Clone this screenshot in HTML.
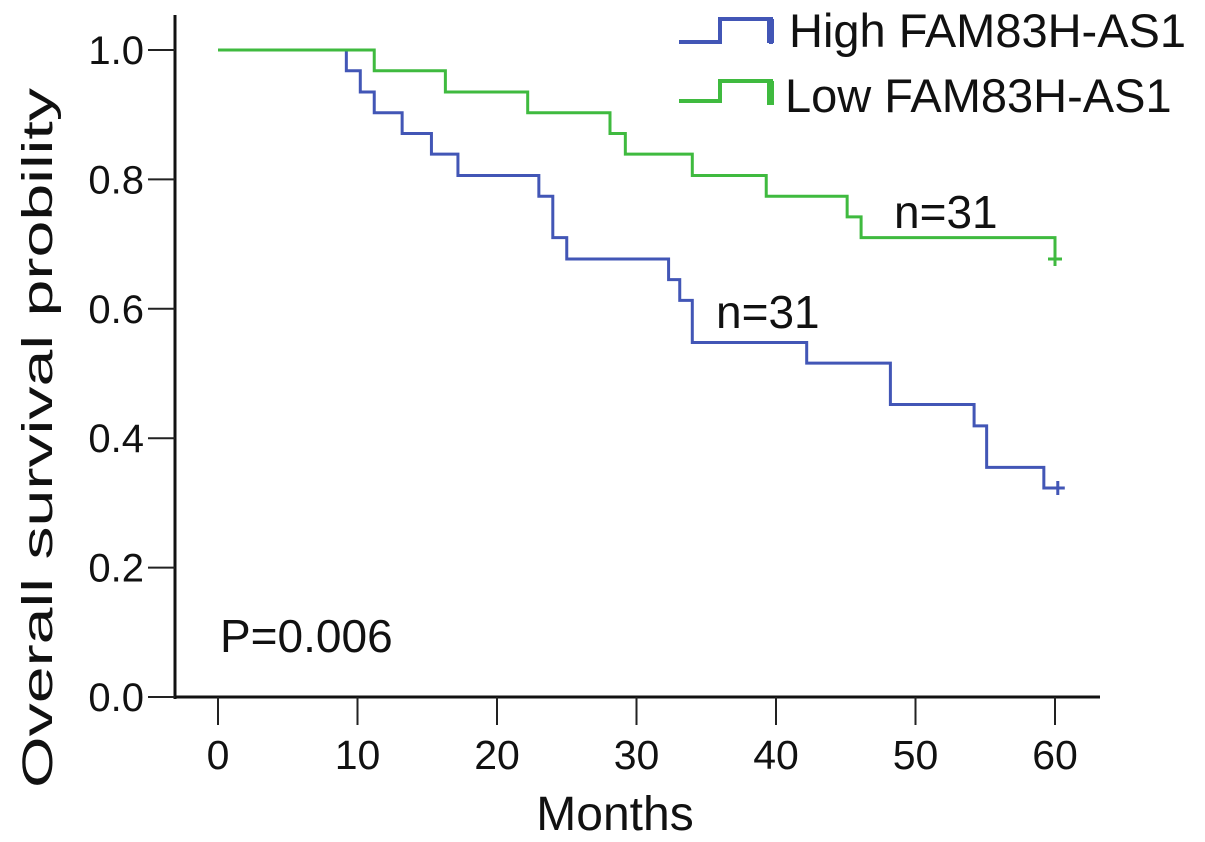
<!DOCTYPE html>
<html><head><meta charset="utf-8"><style>
html,body{margin:0;padding:0;background:#fff;}
svg{display:block;font-family:"Liberation Sans",sans-serif;}
</style></head><body>
<svg id="chart" width="1205" height="842" viewBox="0 0 1205 842"></svg>
<script>
const yTicks = [0.0, 0.2, 0.4, 0.6, 0.8, 1.0];
const yTickLabels = ["0.0", "0.2", "0.4", "0.6", "0.8", "1.0"];
const xTicks = [0, 10, 20, 30, 40, 50, 60];
const xTickLabels = ["0", "10", "20", "30", "40", "50", "60"];
const highTimes = [0, 9.2, 10.2, 11.2, 13.2, 15.3, 17.2, 23.0, 24.0, 25.0, 32.3, 33.1, 34.0, 42.2, 48.2, 54.2, 55.1, 59.2, 60.2];
const highSurv  = [1.0, 0.968, 0.935, 0.903, 0.871, 0.839, 0.806, 0.774, 0.710, 0.677, 0.645, 0.613, 0.548, 0.516, 0.452, 0.419, 0.355, 0.323, 0.323];
const lowTimes = [0, 11.2, 16.3, 22.2, 28.1, 29.2, 34.0, 39.3, 45.1, 46.1, 60.0, 60.0];
const lowSurv  = [1.0, 0.968, 0.935, 0.903, 0.871, 0.839, 0.806, 0.774, 0.742, 0.710, 0.677, 0.677];
const highCensor = [60.2];
const highCensorSurv = [0.323];
const lowCensor = [60.0];
const lowCensorSurv = [0.677];

const NS = "http://www.w3.org/2000/svg";
const svg = document.getElementById("chart");
const X = t => 218 + t * 13.95;
const Y = s => 697 - s * 647;
function el(tag, attrs, parent) {
  const e = document.createElementNS(NS, tag);
  for (const k in attrs) e.setAttribute(k, attrs[k]);
  (parent || svg).appendChild(e);
  return e;
}
const yAxis = el("line", {x1:175, y1:15, x2:175, y2:699, stroke:"#111", "stroke-width":3});


const xAxis = el("line", {x1:174, y1:697, x2:1100, y2:697, stroke:"#111", "stroke-width":3});


yTicks.forEach((v, i) => {
  const t = el("line", {x1:148, y1:Y(v), x2:175, y2:Y(v), stroke:"#222", "stroke-width":2});
  
  
  const l = el("text", {x:144, y:Y(v)+14, "text-anchor":"end", "font-size":40, fill:"#111"});
  l.textContent = yTickLabels[i];
  
  
});
xTicks.forEach((v, i) => {
  const t = el("line", {x1:X(v), y1:697, x2:X(v), y2:725, stroke:"#222", "stroke-width":2});
  
  
  const l = el("text", {x:X(v), y:769, "text-anchor":"middle", "font-size":41, fill:"#111"});
  l.textContent = xTickLabels[i];
  
  
});
function stepPath(ts, ss) {
  let d = "M" + X(ts[0]) + "," + Y(ss[0]);
  for (let i = 1; i < ts.length; i++) {
    d += " H" + X(ts[i]) + " V" + Y(ss[i]);
  }
  return d;
}
const hp = el("path", {d:stepPath(highTimes, highSurv), fill:"none", stroke:"#4256b6", "stroke-width":3});


const lp = el("path", {d:stepPath(lowTimes, lowSurv), fill:"none", stroke:"#3fba3f", "stroke-width":3});


function censor(ts, ss, color, name) {
  ts.forEach((t, i) => {
    const c = el("path", {d:"M"+(X(t)-7)+","+Y(ss[i])+" H"+(X(t)+7)+" M"+X(t)+","+(Y(ss[i])-7)+" V"+(Y(ss[i])+7), stroke:color, "stroke-width":3, fill:"none"});
    
    
  });
}
censor(highCensor, highCensorSurv, "#4256b6", "high-censor-mark");
censor(lowCensor, lowCensorSurv, "#3fba3f", "low-censor-mark");
</script>
<svg style="position:absolute;left:0;top:0" width="1205" height="842">
  <g font-family="Liberation Sans, sans-serif" fill="#111">
    <text x="894" y="228" font-size="46">n=31</text>
    <text x="716" y="328" font-size="46">n=31</text>
    <text x="220" y="652" font-size="46">P=0.006</text>
    <text x="615" y="830" font-size="48" text-anchor="middle">Months</text>
    <text transform="translate(52,438) rotate(-90)" font-size="43" text-anchor="middle" textLength="700" lengthAdjust="spacingAndGlyphs">Overall  survival probility</text>
  </g>
  <g>
    <path d="M679,42 H720 V19 H771 V44" fill="none" stroke="#4256b6" stroke-width="4"/>
    <rect x="767" y="19" width="7" height="24" fill="#4256b6"/>
    <text x="789" y="47" font-size="47" font-family="Liberation Sans, sans-serif" fill="#111">High FAM83H-AS1</text>
    <path d="M679,101 H720 V81 H771 V104" fill="none" stroke="#3fba3f" stroke-width="4"/>
    <rect x="767" y="81" width="7" height="24" fill="#3fba3f"/>
    <text x="785" y="112" font-size="47" font-family="Liberation Sans, sans-serif" fill="#111">Low FAM83H-AS1</text>
  </g>
</svg>
</body></html>
